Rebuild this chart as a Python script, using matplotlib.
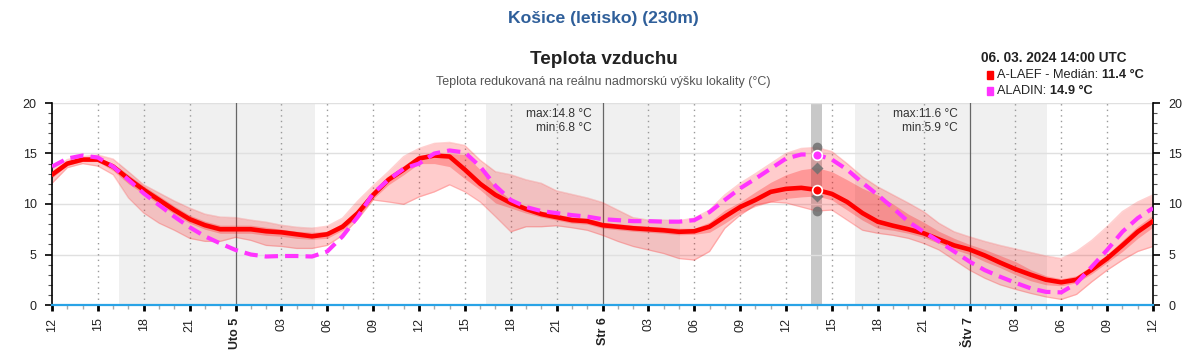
import matplotlib
matplotlib.use('Agg')
import matplotlib.pyplot as plt
import numpy as np
from matplotlib.patches import Rectangle

plt.rcParams['font.family'] = ['Liberation Sans', 'DejaVu Sans']

# ---------------- data (hours from Mon 04.03 12:00 UTC) ----------------
hours = list(range(73))

median = [12.9, 14.0, 14.4, 14.4, 13.7, 12.5, 11.4, 10.4, 9.4, 8.5, 7.9, 7.5, 7.5, 7.5, 7.3, 7.2, 7.0, 6.8, 7.0, 7.75, 9.1, 10.9, 12.4, 13.4,
          14.5, 14.8, 14.7, 13.4, 12.0, 10.9, 10.1, 9.5, 9.0, 8.7, 8.4, 8.3, 7.9, 7.75, 7.6, 7.5, 7.4, 7.25, 7.3, 7.75, 8.75, 9.7, 10.4, 11.2, 11.5, 11.6,
          11.4, 11.0, 10.2, 9.1, 8.25, 7.85, 7.5, 7.1, 6.5, 5.9, 5.5, 4.9, 4.2, 3.55, 3.0, 2.5, 2.25, 2.5, 3.5, 4.6, 5.9, 7.25, 8.3]

aladin = [13.7, 14.5, 14.8, 14.6, 13.7, 12.4, 11.05, 9.9, 8.75, 7.7, 6.8, 6.1, 5.45, 5.0, 4.8, 4.85, 4.85, 4.8, 5.3, 6.8, 8.75, 11.05, 12.4, 13.5,
          14.0, 15.0, 15.3, 15.1, 13.7, 11.8, 10.4, 9.7, 9.3, 9.1, 8.9, 8.75, 8.5, 8.4, 8.3, 8.3, 8.25, 8.25, 8.4, 9.2, 10.4, 11.55, 12.5, 13.5, 14.5, 14.9,
          14.9, 14.4, 13.4, 12.1, 10.9, 9.6, 8.25, 7.25, 6.3, 5.3, 4.3, 3.45, 2.8, 2.2, 1.65, 1.3, 1.25, 2.15, 3.8, 5.45, 7.25, 8.6, 9.6]

outer_hi = [13.4, 14.4, 14.7, 14.85, 14.45, 13.2, 11.9, 11.1, 10.3, 9.6, 9.0, 8.7, 8.65, 8.4, 8.2, 7.9, 7.7, 7.6, 7.8, 8.6, 10.3, 11.8, 13.2, 14.7,
            15.5, 16.0, 16.1, 15.8, 14.35, 13.2, 12.9, 12.4, 12.05, 11.3, 10.95, 10.6, 10.15, 9.4, 8.65, 8.4, 8.4, 8.35, 8.6, 9.4, 10.9, 12.05, 13.0, 14.0, 15.0, 15.5,
            15.6, 15.2, 14.0, 12.7, 11.7, 10.9, 10.1, 9.25, 8.1, 7.25, 6.75, 6.3, 5.9, 5.55, 5.2, 4.85, 4.6, 5.3, 6.4, 7.75, 9.25, 10.2, 10.9]

outer_lo = [12.05, 13.6, 14.0, 13.75, 12.9, 10.6, 9.1, 8.1, 7.4, 6.6, 6.3, 6.3, 6.7, 6.4, 5.9, 5.8, 5.6, 5.6, 5.9, 6.9, 8.5, 10.4, 10.2, 9.97,
            10.7, 11.2, 11.9, 11.2, 10.2, 8.75, 7.25, 7.75, 7.75, 7.85, 7.65, 7.4, 6.9, 6.3, 5.8, 5.45, 5.1, 4.6, 4.45, 5.3, 7.6, 8.9, 9.9, 10.2, 10.1, 9.7,
            9.3, 9.4, 8.4, 7.4, 7.1, 6.9, 6.6, 6.1, 5.45, 4.45, 3.45, 2.65, 2.0, 1.55, 1.15, 0.8, 0.55, 1.05, 2.3, 3.45, 4.45, 5.3, 5.8]

inner_hi = [13.2, 14.2, 14.6, 14.6, 14.0, 12.9, 11.8, 10.8, 9.8, 8.9, 8.3, 7.9, 7.9, 7.9, 7.7, 7.5, 7.3, 7.2, 7.3, 8.1, 9.5, 11.2, 12.8, 13.8,
            14.85, 15.0, 15.0, 14.9, 13.4, 11.7, 10.4, 9.8, 9.3, 9.0, 8.7, 8.6, 8.2, 8.05, 7.9, 7.8, 7.7, 7.6, 7.6, 8.2, 9.4, 10.2, 11.2, 12.15, 12.9, 13.4,
            13.6, 13.2, 12.4, 11.55, 10.9, 10.0, 9.0, 8.2, 7.3, 6.6, 6.0, 5.5, 4.9, 4.3, 3.5, 2.9, 2.6, 2.9, 3.9, 5.0, 6.4, 7.8, 8.9]

inner_lo = [12.6, 13.8, 14.2, 14.2, 13.3, 12.0, 11.0, 10.0, 9.0, 8.1, 7.5, 7.1, 7.1, 7.1, 6.9, 6.8, 6.6, 6.5, 6.6, 7.4, 8.7, 10.5, 11.9, 12.9,
            14.0, 14.0, 13.7, 12.5, 11.4, 10.1, 9.6, 9.1, 8.7, 8.4, 8.1, 8.0, 7.6, 7.45, 7.3, 7.2, 7.1, 6.95, 7.0, 7.2, 8.1, 9.1, 9.75, 10.2, 10.55, 10.7,
            10.8, 10.4, 9.4, 8.4, 7.6, 7.4, 7.1, 6.7, 6.1, 5.5, 5.0, 4.3, 3.7, 3.0, 2.4, 2.0, 1.9, 2.2, 3.1, 4.2, 5.3, 6.6, 7.7]

night_spans = [(4.4, 17.2), (28.4, 41.1), (52.5, 65.1)]
midnights = [12, 36, 60]
day_labels = {12: 'Uto 5', 36: 'Str 6', 60: 'Štv 7'}
sel_hour = 50
daily_stats = [(35.3, 'max:14.8 °C', 'min:6.8 °C'), (59.25, 'max:11.6 °C', 'min:5.9 °C')]

title = 'Košice (letisko) (230m)'
chart_title = 'Teplota vzduchu'
subtitle = 'Teplota redukovaná na reálnu nadmorskú výšku lokality (°C)'
sel_label = '06. 03. 2024 14:00 UTC'

# ---------------- figure ----------------
W, H = 1200, 361
fig = plt.figure(figsize=(W / 100, H / 100), dpi=100)
ax = fig.add_axes([52 / W, 1 - 305 / H, 1101 / W, 202 / H])
ax.set_xlim(0, 72)
ax.set_ylim(0, 20)

x = np.array(hours)
for a, b in night_spans:
    ax.axvspan(a, b, color='#f0f0f0', zorder=0, lw=0)
ax.axvspan(sel_hour - 0.36, sel_hour + 0.36, color='#c8c8c8', zorder=1, lw=0)

for yv in [5, 10, 15, 20]:
    ax.axhline(yv, color='#e0e0e0', lw=1, zorder=1)
for h in range(0, 73, 3):
    if h in midnights:
        ax.axvline(h, color='#666666', lw=0.9, zorder=1.5)
    elif 0 < h < 72:
        ax.axvline(h, color='#999999', lw=1, ls=(0, (1, 3)), zorder=1.5)

ax.fill_between(x, outer_lo, outer_hi, color='#ff0000', alpha=0.2, lw=0, zorder=2)
ax.plot(x, outer_hi, color='#ff0000', alpha=0.18, lw=1, zorder=2)
ax.plot(x, outer_lo, color='#ff0000', alpha=0.18, lw=1, zorder=2)
ax.fill_between(x, inner_lo, inner_hi, color='#ff0000', alpha=0.25, lw=0, zorder=2.5)

ax.plot(x, median, color='#ff0000', lw=3.3, zorder=4, solid_capstyle='round', solid_joinstyle='round')
ax.plot(x, aladin, color='#ff33ff', lw=3.0, ls=(0, (3.2, 1.7)), zorder=5)

# selection markers
ax.plot([sel_hour, sel_hour], [outer_hi[sel_hour], outer_lo[sel_hour]], ls='none', marker='o',
        ms=7, color='#707070', alpha=0.85, zorder=6, mec='none')
ax.plot([sel_hour, sel_hour], [inner_hi[sel_hour], inner_lo[sel_hour]], ls='none', marker='D',
        ms=6, color='#707070', alpha=0.85, zorder=6, mec='none')
ax.plot([sel_hour], [median[sel_hour]], marker='o', ms=7, color='#ff0000', mec='white', mew=1.2, zorder=7)
ax.plot([sel_hour], [aladin[sel_hour]], marker='o', ms=7, color='#ff33ff', mec='white', mew=1.2, zorder=7)

for xs, l1, l2 in daily_stats:
    ax.text(xs, 18.9, l1, ha='right', va='center', fontsize=8.6, color='#333333', zorder=8)
    ax.text(xs, 17.5, l2, ha='right', va='center', fontsize=8.6, color='#333333', zorder=8)

# axes styling
ax.spines['top'].set_visible(False)
ax.spines['bottom'].set_color('#29a3e6')
ax.spines['bottom'].set_linewidth(1.6)
ax.spines['left'].set_color('black')
ax.spines['right'].set_color('black')
ax.spines['left'].set_linewidth(1.2)
ax.spines['right'].set_linewidth(1.2)

major = list(range(0, 73, 3))
labels = []
for h in major:
    if h in day_labels:
        labels.append(day_labels[h])
    else:
        labels.append('%02d' % ((12 + h) % 24))
ax.set_xticks(major)
ax.set_xticklabels(labels, rotation=90, fontsize=9)
ax.set_xticks(range(0, 73), minor=True)
for h, lab in zip(major, ax.get_xticklabels()):
    if h in day_labels:
        lab.set_fontweight('bold')
    lab.set_color('#222222')
ax.tick_params(axis='x', which='major', length=4, width=2, color='black', pad=5, direction='out')
ax.tick_params(axis='x', which='minor', length=3, width=1, color='#aaaaaa', direction='out')

ax.set_yticks([0, 5, 10, 15, 20])
ax.set_yticks(range(0, 21), minor=True)
ax.tick_params(axis='y', which='major', length=5, width=1.2, left=True, right=True,
               labelleft=True, labelright=True, labelsize=9, labelcolor='#222222', pad=6)
ax.tick_params(axis='y', which='minor', length=3, width=0.8, left=True, right=True, color='#555555')

# titles
fig.text(603.5 / W, 1 - 18 / H, title, ha='center', va='center', fontsize=12.6, fontweight='bold', color='#2f5f9a')
fig.text(603.5 / W, 1 - 60 / H, chart_title, ha='center', va='center', fontsize=13.6, fontweight='bold', color='#222222')
fig.text(603 / W, 1 - 82 / H, subtitle, ha='center', va='center', fontsize=9.0, color='#555555')

# legend block
fig.text(981 / W, 1 - 58 / H, sel_label, ha='left', va='center', fontsize=9.8, fontweight='bold', color='#222222')
entries = [('#ff0000', 'A-LAEF - Medián: ', '%.1f °C' % median[sel_hour], 75),
           ('#ff33ff', 'ALADIN: ', '%.1f °C' % aladin[sel_hour], 91)]
for col, lab, val, yp in entries:
    fig.patches.append(Rectangle((987 / W, 1 - (yp + 3.5) / H), 6 / W, 7 / H,
                                 transform=fig.transFigure, color=col, figure=fig))
    t = fig.text(997 / W, 1 - yp / H, lab, ha='left', va='center', fontsize=9.2, color='#222222')
    ax.annotate(val, xy=(1, 0.5), xycoords=t, ha='left', va='center', fontsize=9.2,
                fontweight='bold', color='#222222', annotation_clip=False)

fig.savefig('out.png', dpi=100)
